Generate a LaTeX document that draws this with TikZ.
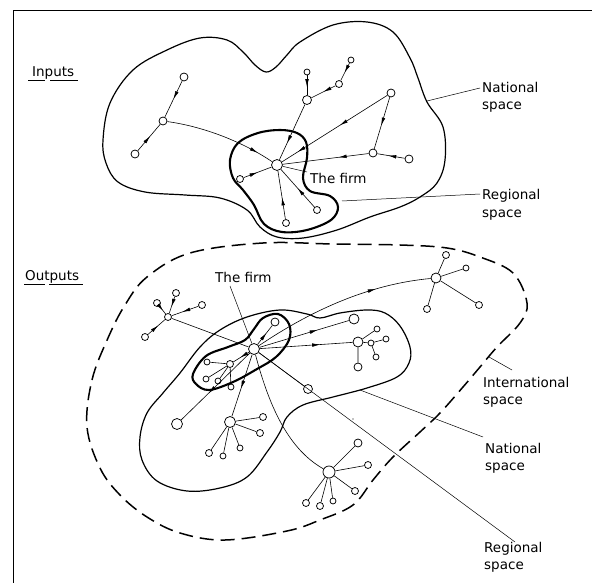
\documentclass[tikz,border=0pt]{standalone}
\usepackage{fontspec}
\setmainfont{DejaVu Sans}
\usetikzlibrary{decorations.markings,arrows.meta}
\begin{document}
\begin{tikzpicture}[x=1pt,y=-1pt,
  nd/.style={circle,draw,fill=white,inner sep=0pt,line width=0.75pt,minimum size=#1},
  nd/.default=8pt,
  ln/.style={line width=0.6pt},
  lead/.style={line width=0.5pt},
  outl/.style={line width=1.2pt},
  reg/.style={line width=2.1pt},
  intl/.style={line width=1.5pt,dash pattern=on 14pt off 7pt},
  marr/.style={postaction={decorate},decoration={markings,mark=at position #1 with {\arrow{Latex[length=8pt,width=3.6pt]}}}},
  marrtwo/.style 2 args={postaction={decorate},decoration={markings,mark=at position #1 with {\arrow{Latex[length=8pt,width=3.6pt]}},mark=at position #2 with {\arrow{Latex[length=8pt,width=3.6pt]}}}},
  lbl/.style={font=\fontsize{13.5}{17}\selectfont,inner sep=0pt,anchor=base west},
]
\useasboundingbox (0,0) rectangle (592,583);
% frame
\draw[line width=1pt] (13,583) -- (13,11) -- (592,11);

% ================= INPUTS =================
\draw[outl] plot[smooth cycle,tension=0.6] coordinates {
 (103,140) (110,103) (133,70) (167,50) (200,38) (227,40) (243,52) (255,65) (266,72)
 (276,67) (287,55) (300,42) (333,25) (367,22) (393,32) (410,58) (418,78) (427,102)
 (443,127) (445,160) (437,183) (420,197) (400,207) (370,217) (337,230) (303,238)
 (277,237) (260,227) (247,210) (220,198) (185,195) (145,192) (118,182) (106,163)};
\draw[reg] plot[smooth cycle,tension=0.6] coordinates {
 (280,130) (297,133) (306,142) (307,158) (303,178) (310,191) (330,196) (338,207)
 (331,220) (307,230) (282,232) (264,224) (254,205) (243,190) (233,178) (230,160)
 (238,143) (258,133)};

\node[nd=11pt] (f1) at (277,165) {};
\node[nd=8pt] (a1) at (184,77) {};
\node[nd=8pt] (b1) at (163,121) {};
\node[nd=8pt] (c1) at (135,154) {};
\node[nd=9pt] (d1) at (307,100) {};
\node[nd=6pt] (e1) at (307,72) {};
\node[nd=7pt] (fa1) at (339,84) {};
\node[nd=6pt] (g1) at (351,60) {};
\node[nd=8pt] (h1) at (391,93) {};
\node[nd=8pt] (i1) at (373,153) {};
\node[nd=8pt] (j1) at (409,159) {};
\node[nd=7pt] (k1) at (240,179) {};
\node[nd=7pt] (l1) at (286,223) {};
\node[nd=7pt] (m1) at (317,210) {};

\draw[ln,marr=0.5] (a1) -- (b1);
\draw[ln,marr=0.55] (c1) -- (b1);
\draw[ln,marr=0.85] (b1) .. controls (200,126) and (240,140) .. (f1);
\draw[ln,marr=0.6] (e1) -- (d1);
\draw[ln,marr=0.55] (g1) -- (fa1);
\draw[ln,marr=0.5] (fa1) -- (d1);
\draw[ln,marr=0.7] (d1) -- (f1);
\draw[ln,marrtwo={0.45}{0.85}] (h1) -- (f1);
\draw[ln,marr=0.55] (h1) -- (i1);
\draw[ln,marr=0.6] (j1) -- (i1);
\draw[ln,marr=0.35] (i1) -- (f1);
\draw[ln,marr=0.5] (k1) -- (f1);
\draw[ln,marr=0.45] (l1) -- (f1);
\draw[ln,marr=0.5] (m1) -- (f1);

\coordinate (fl1) at (307,172);
\draw[lead] (f1) -- (fl1);
\coordinate (nl1a) at (427,101); \coordinate (nl1b) at (480,88);
\draw[lead] (nl1a) -- (nl1b);
\coordinate (rl1a) at (342,201); \coordinate (rl1b) at (480,194);
\draw[lead] (rl1a) -- (rl1b);

\node[lbl] (tIn) at (32,77) {Inputs};
\draw[line width=0.7pt] (28,80.5) -- (45,80.5) (50,80.5) -- (78,80.5);
\node[lbl] (tFirm1) at (310,183) {The firm};
\node[lbl] (tNat1) at (482,93) {National};
\node[lbl] (tNat1b) at (482,110) {space};
\node[lbl] (tReg1) at (482,200) {Regional};
\node[lbl] (tReg1b) at (482,217) {space};

% ================= OUTPUTS =================
\draw[intl] plot[smooth cycle,tension=0.6] coordinates {
 (87,427) (92,380) (108,338) (125,305) (147,277) (190,253) (263,243) (333,244)
 (400,245) (447,248) (480,257) (513,273) (527,303) (520,323) (497,347) (480,367)
 (463,387) (440,413) (420,432) (393,457) (373,480) (353,505) (320,520) (287,531)
 (225,540) (180,533) (147,517) (120,495) (100,468)};
\draw[outl] plot[smooth cycle,tension=0.6] coordinates {
 (180,373) (200,347) (220,330) (247,317) (280,310) (307,314) (320,318) (340,313)
 (367,310) (385,313) (400,326) (410,347) (409,363) (397,377) (367,388) (333,397)
 (303,405) (287,417) (280,432) (267,452) (247,477) (220,488) (187,491) (157,481)
 (142,460) (140,437) (147,413) (163,393)};
\draw[reg] plot[smooth cycle,tension=0.6] coordinates {
 (193,374) (206,356) (228,347) (245,340) (254,329) (263,318) (278,314) (289,324)
 (289,340) (276,357) (257,369) (233,382) (209,390) (196,384)};

\node[nd=11pt] (f2) at (254,349) {};
\node[nd=8pt] (p1) at (275,322) {};
\node[nd=7pt] (ph) at (230,364) {};
\node[nd=6pt] (pl1) at (207,362) {};
\node[nd=6pt] (pl2) at (206,379) {};
\node[nd=6pt] (pl3) at (218,381) {};
\node[nd=6pt,fill=none] (pl4) at (231,387) {};
\node[nd=11pt] (ll) at (177,424) {};
\node[nd=11pt] (bh) at (230,422) {};
\node[nd=7pt] (bl1) at (263,417) {};
\node[nd=7pt] (bl2) at (260,433) {};
\node[nd=6pt] (bl3) at (240,448) {};
\node[nd=6pt] (bl4) at (223,456) {};
\node[nd=7pt] (bl5) at (209,453) {};
\node[nd=9pt] (nr) at (308,389) {};
\node[nd=10pt] (rn) at (354,319) {};
\node[nd=10pt] (h2) at (358,342) {};
\node[nd=6pt] (h2a) at (377,329) {};
\node[nd=6pt] (h2s) at (371,343) {};
\node[nd=6pt] (h2b) at (386,339) {};
\node[nd=6pt] (h2c) at (376,357) {};
\node[nd=8pt] (h2d) at (358,367) {};
\node[nd=10pt] (fh) at (436,278) {};
\node[nd=7pt] (fha) at (446,255) {};
\node[nd=6pt] (fhb) at (466,268) {};
\node[nd=7pt] (fhc) at (479,305) {};
\node[nd=7pt] (fhd) at (427,309) {};
\node[nd=7pt] (tl) at (168,317) {};
\node[nd=7pt] (tla) at (157,303) {};
\node[nd=7pt] (tlb) at (176,293) {};
\node[nd=7pt] (tlc) at (202,305) {};
\node[nd=7pt] (tld) at (145,337) {};
\node[nd=12pt] (br) at (329,472) {};
\node[nd=8pt] (bra) at (358,443) {};
\node[nd=7pt] (brb) at (368,465) {};
\node[nd=7pt] (brc) at (355,491) {};
\node[nd=6pt] (brd) at (333,501) {};
\node[nd=7pt] (bre) at (320,506) {};
\node[nd=7pt] (brf) at (306,503) {};

\draw[ln,marr=0.6] (f2) -- (p1);
\draw[ln,marr=0.55] (f2) -- (ph);
\draw[ln] (ph) -- (pl1) (ph) -- (pl2) (ph) -- (pl3) (ph) -- (pl4);
\draw[ln,marr=0.6] (f2) -- (ll);
\draw[ln,marr=0.55] (f2) -- (bh);
\draw[ln] (bh) -- (bl1) (bh) -- (bl2) (bh) -- (bl3) (bh) -- (bl4) (bh) -- (bl5);
\draw[ln] (f2) -- (nr);
\draw[ln,marr=0.65] (f2) -- (rn);
\draw[ln,marr=0.65] (f2) -- (h2);
\draw[ln] (h2) -- (h2a) (h2) -- (h2s) (h2s) -- (h2b) (h2s) -- (h2c) (h2) -- (h2d);
\draw[ln,marr=0.7] (f2) .. controls (300,318) and (360,285) .. (fh);
\draw[ln] (fh) -- (fha) (fh) -- (fhb) (fh) -- (fhc) (fh) -- (fhd);
\draw[ln] (f2) -- (tl);
\draw[ln,marr=0.6] (tla) -- (tl);
\draw[ln,marr=0.6] (tlb) -- (tl);
\draw[ln,marr=0.6] (tlc) -- (tl);
\draw[ln,marr=0.6] (tld) -- (tl);
\draw[ln] (f2) .. controls (270,410) and (290,450) .. (br);
\draw[ln] (br) -- (bra) (br) -- (brb) (br) -- (brc) (br) -- (brd) (br) -- (bre) (br) -- (brf);

\fill (353,419) circle (0.7);

\coordinate (fl2) at (230,286);
\draw[lead] (fl2) -- (f2);
\coordinate (rl2) at (515,542);
\draw[lead] (f2) -- (rl2);
\coordinate (nl2a) at (360,390); \coordinate (nl2b) at (483,437);
\draw[lead] (nl2a) -- (nl2b);
\coordinate (il2a) at (489,357); \coordinate (il2b) at (512,370);
\draw[lead] (il2a) -- (il2b);

\node[lbl] (tOut) at (25,280) {Outputs};
\draw[line width=0.7pt] (24,284) -- (45,284) (49,284) -- (83,284);
\node[lbl] (tFirm2) at (215,282) {The firm};
\node[lbl] (tInt) at (483,387) {International};
\node[lbl] (tIntb) at (483,404) {space};
\node[lbl] (tNat2) at (485,453) {National};
\node[lbl] (tNat2b) at (485,470) {space};
\node[lbl] (tReg2) at (484,552) {Regional};
\node[lbl] (tReg2b) at (484,569) {space};
\end{tikzpicture}
\end{document}
